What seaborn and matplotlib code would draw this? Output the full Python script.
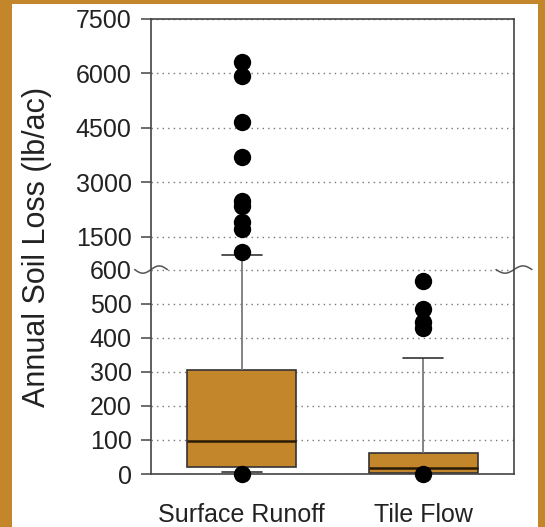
import numpy as np
import pandas as pd
import matplotlib
matplotlib.use("Agg")
import matplotlib.pyplot as plt
from matplotlib.patches import Rectangle
import seaborn as sns

# ----------------------- Données -------------------------------------------
groups = ["Surface Runoff", "Tile Flow"]

# résumé des boîtes : moustache basse, Q1, médiane, Q3, moustache haute
whisker_low = [5, 0]
q1 = [22, 3]
median = [97, 17]
q3 = [305, 63]
whisker_high = [1010, 341]

# points extrêmes
surface_out = [6310, 5930, 4670, 3700, 2490, 2360, 1910, 1720, 1070, 0]
tile_out = [565, 485, 445, 428, 0]

y_ticks = [0, 100, 200, 300, 400, 500, 600, 1500, 3000, 4500, 6000, 7500]

orange = "#C4862A"

# tableau long pour seaborn : 5 valeurs par groupe -> quartiles exacts
rows = []
for i, g in enumerate(groups):
    for v in [whisker_low[i], q1[i], median[i], q3[i], whisker_high[i]]:
        rows.append({"group": g, "value": v})
box_df = pd.DataFrame(rows)

out_df = pd.DataFrame({
    "group": [groups[0]] * len(surface_out) + [groups[1]] * len(tile_out),
    "value": surface_out + tile_out,
})

# échelle brisée à 600 : bas 0-600, haut 600-7500
BREAK = 600
LOW_H = 204.0
HIGH_H = 250.0
TOP = 7500


def forward(v):
    v = np.asarray(v, dtype=float)
    return np.where(v <= BREAK, v * LOW_H / BREAK,
                    LOW_H + (v - BREAK) * HIGH_H / (TOP - BREAK))


def inverse(t):
    t = np.asarray(t, dtype=float)
    return np.where(t <= LOW_H, t * BREAK / LOW_H,
                    BREAK + (t - LOW_H) * (TOP - BREAK) / HIGH_H)


sns.set_style("white")
plt.rcParams['font.family'] = ['Liberation Sans', 'DejaVu Sans']

fig = plt.figure(figsize=(5.45, 5.27), dpi=100, facecolor=orange)
fig.patches.append(Rectangle((12 / 545, 0), 526 / 545, 523 / 527,
                             transform=fig.transFigure, facecolor="white",
                             edgecolor="none", zorder=-10))
ax = fig.add_axes([151 / 545, 53 / 527, 363 / 545, 455 / 527])
ax.set_yscale("function", functions=(forward, inverse))

sns.boxplot(data=box_df, x="group", y="value", order=groups, ax=ax,
            whis=(0, 100), showfliers=False, width=0.6, color=orange,
            saturation=1, linecolor="#333333", linewidth=1.2,
            whiskerprops={"color": "#7a7a7a", "linewidth": 1.3},
            medianprops={"color": "#2a1a05", "linewidth": 1.8})

# moustaches : capuchons plus courts que par défaut
for ln in ax.lines:
    xd = np.asarray(ln.get_xdata(), dtype=float)
    yd = np.asarray(ln.get_ydata(), dtype=float)
    if len(xd) == 2 and yd[0] == yd[1] and abs((xd[1] - xd[0]) - 0.3) < 1e-6:
        c = xd.mean()
        ln.set_xdata([c - 0.11, c + 0.11])

sns.stripplot(data=out_df, x="group", y="value", order=groups, ax=ax,
              jitter=False, color="black", size=12.5, linewidth=0, zorder=5)
for c in ax.collections:
    c.set_clip_on(False)

ax.set_ylim(0, TOP)
ax.set_xlim(-0.5, 1.5)
ax.set_yticks(y_ticks)
ax.set_yticklabels([str(t) for t in y_ticks])
ax.yaxis.set_minor_locator(matplotlib.ticker.NullLocator())
ax.grid(axis="y", linestyle=(0, (1, 3)), color="#777777", linewidth=1.0)
ax.set_axisbelow(True)

ax.tick_params(axis="y", direction="out", length=7, width=1.1, color="#444444",
               labelsize=18, labelcolor="#222222", pad=7, left=True)
ax.tick_params(axis="x", length=0, labelsize=18, labelcolor="#222222", pad=21)
# pas de trait de graduation à la cassure
ax.yaxis.get_major_ticks()[6].tick1line.set_visible(False)

for s in ax.spines.values():
    s.set_visible(True)
    s.set_color("#444444")
    s.set_linewidth(1.2)

ax.set_xlabel("")
ax.set_ylabel("Annual Soil Loss (lb/ac)", fontsize=22, color="#222222",
              labelpad=17)

# symboles de cassure d'axe
yb = LOW_H / (LOW_H + HIGH_H)
xs = np.linspace(-0.045, 0.045, 40)
ys = yb + 0.008 * np.sin(xs / 0.045 * np.pi)
ax.plot(xs, ys, color="#555555", lw=1.1, transform=ax.transAxes, clip_on=False)
ax.plot(1 + xs * 1.1, ys, color="#555555", lw=1.1, transform=ax.transAxes,
        clip_on=False)

plt.savefig("out.png", dpi=100, facecolor=orange)
